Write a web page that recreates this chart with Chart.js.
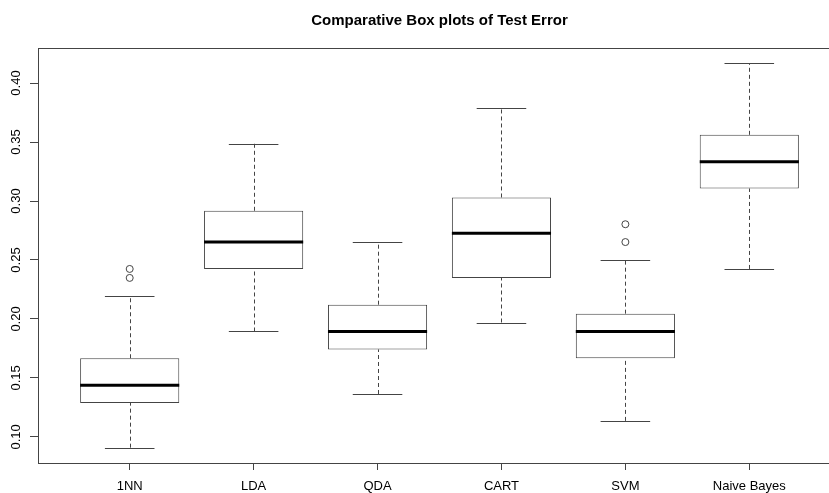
<!DOCTYPE html>
<html>
<head>
<meta charset="utf-8">
<title>Comparative Box plots of Test Error</title>
<script src="https://cdn.jsdelivr.net/npm/chart.js@4/dist/chart.umd.min.js"></script>
<style>
  html, body { margin: 0; padding: 0; background: #fff; overflow: hidden; width: 829px; height: 493px; }
  canvas { display: block; }
</style>
</head>
<body>
<canvas id="boxes" width="846" height="493"></canvas>
<script>
// Test-error summaries per classifier (five-number summary plus outliers)
const methods       = ['1NN', 'LDA', 'QDA', 'CART', 'SVM', 'Naive Bayes'];
const whiskerLow    = [0.0909, 0.1894, 0.1364, 0.1970, 0.1136, 0.2424];
const lowerQuartile = [0.1288, 0.2424, 0.1742, 0.2348, 0.1667, 0.3106];
const medianError   = [0.1439, 0.2652, 0.1894, 0.2727, 0.1894, 0.3333];
const upperQuartile = [0.1667, 0.2917, 0.2121, 0.3030, 0.2045, 0.3561];
const whiskerHigh   = [0.2197, 0.3485, 0.2652, 0.3788, 0.2500, 0.4167];
const outlierValues = [[0.2424, 0.2348], [], [], [], [0.2803, 0.2652], []];
const yTickValues   = [0.10, 0.15, 0.20, 0.25, 0.30, 0.35, 0.40];

const FONT = '"Liberation Sans", Arial, Helvetica, sans-serif';
const INK = '#444';
const BOX_WIDTH = 0.8;      // in category units
const CAP_WIDTH = 0.4;

const positions = methods.map((_, i) => i + 1);

// whiskers, caps, medians and the plot frame, placed through the chart scales
const boxPlotMarks = {
  id: 'boxPlotMarks',
  beforeDatasetsDraw(chart) {
    const { ctx, scales: { x, y } } = chart;
    ctx.save();
    ctx.strokeStyle = INK;
    ctx.lineWidth = 1;
    positions.forEach((p, i) => {
      const cx = Math.round(x.getPixelForValue(p)) + 0.5;
      const yLo = y.getPixelForValue(whiskerLow[i]);
      const yQ1 = y.getPixelForValue(lowerQuartile[i]);
      const yQ3 = y.getPixelForValue(upperQuartile[i]);
      const yHi = y.getPixelForValue(whiskerHigh[i]);
      ctx.setLineDash([4, 3]);
      ctx.beginPath();
      ctx.moveTo(cx, yLo); ctx.lineTo(cx, yQ1);
      ctx.moveTo(cx, yQ3); ctx.lineTo(cx, yHi);
      ctx.stroke();
      ctx.setLineDash([]);
      const l = x.getPixelForValue(p - CAP_WIDTH / 2);
      const r = x.getPixelForValue(p + CAP_WIDTH / 2);
      ctx.beginPath();
      ctx.moveTo(l, Math.round(yLo) + 0.5); ctx.lineTo(r, Math.round(yLo) + 0.5);
      ctx.moveTo(l, Math.round(yHi) + 0.5); ctx.lineTo(r, Math.round(yHi) + 0.5);
      ctx.stroke();
    });
    ctx.restore();
  },
  afterDatasetsDraw(chart) {
    const { ctx, scales: { x, y } } = chart;
    ctx.save();
    ctx.strokeStyle = '#000';
    ctx.lineWidth = 3;
    positions.forEach((p, i) => {
      const ym = y.getPixelForValue(medianError[i]);
      ctx.beginPath();
      ctx.moveTo(x.getPixelForValue(p - BOX_WIDTH / 2), ym);
      ctx.lineTo(x.getPixelForValue(p + BOX_WIDTH / 2), ym);
      ctx.stroke();
    });
    ctx.restore();
  },
  afterDraw(chart) {
    const { ctx, chartArea: a } = chart;
    ctx.save();
    ctx.strokeStyle = INK;
    ctx.lineWidth = 1;
    ctx.strokeRect(a.left + 0.5, a.top + 0.5, a.right - a.left, a.bottom - a.top);
    ctx.restore();
  }
};

new Chart(document.getElementById('boxes'), {
  type: 'bar',
  data: {
    datasets: [
      {
        type: 'bar',
        label: 'Interquartile range',
        data: positions.map((p, i) => ({ x: p, y: [lowerQuartile[i], upperQuartile[i]] })),
        backgroundColor: '#fff',
        borderColor: INK,
        borderWidth: 1,
        borderSkipped: false,
        barPercentage: BOX_WIDTH,
        categoryPercentage: 1,
        order: 2
      },
      {
        type: 'scatter',
        label: 'Outliers',
        data: positions.flatMap((p, i) => outlierValues[i].map(v => ({ x: p, y: v }))),
        pointStyle: 'circle',
        pointRadius: 3.5,
        pointBorderWidth: 1,
        pointBackgroundColor: '#fff',
        pointBorderColor: INK,
        order: 1
      }
    ]
  },
  options: {
    responsive: false,
    devicePixelRatio: 1,
    animation: false,
    events: [],
    layout: { padding: 0 },
    plugins: {
      legend: { display: false },
      tooltip: { enabled: false },
      title: {
        display: true,
        fullSize: false,
        text: 'Comparative Box plots of Test Error',
        color: '#000',
        font: { family: FONT, size: 15, weight: 'bold', lineHeight: 1.2 },
        padding: { top: 11.5, bottom: 18.5 }
      }
    },
    scales: {
      x: {
        type: 'linear',
        min: 0.26,
        max: 6.74,
        offset: false,
        afterBuildTicks: s => { s.ticks = positions.map(v => ({ value: v })); },
        afterFit: s => { s.height = 30; },
        grid: { display: true, offset: false, drawOnChartArea: false, drawTicks: true, tickLength: 7, tickColor: INK },
        border: { display: false },
        ticks: {
          autoSkip: false,
          maxRotation: 0,
          padding: 9,
          color: '#000',
          font: { family: FONT, size: 13 },
          callback: v => methods[v - 1]
        }
      },
      y: {
        type: 'linear',
        min: 0.0779,
        max: 0.4297,
        afterBuildTicks: s => { s.ticks = yTickValues.map(v => ({ value: v })); },
        afterFit: s => { s.width = 38; },
        grid: { display: true, drawOnChartArea: false, drawTicks: true, tickLength: 8, tickColor: INK },
        border: { display: false },
        ticks: {
          minRotation: 90,
          maxRotation: 90,
          crossAlign: 'center',
          padding: 1,
          color: '#000',
          font: { family: FONT, size: 13 },
          callback: v => v.toFixed(2)
        }
      }
    }
  },
  plugins: [boxPlotMarks]
});
</script>
</body>
</html>
